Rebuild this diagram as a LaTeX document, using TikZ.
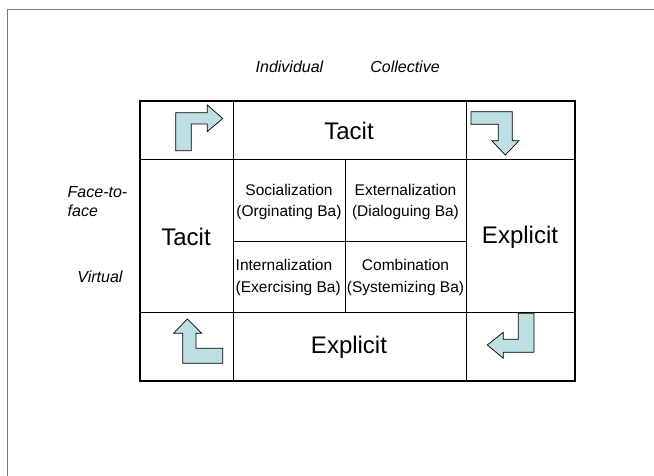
\documentclass[tikz,border=0pt]{standalone}
\usepackage{fontspec}
\setmainfont{Liberation Sans}
\definecolor{arrowfill}{RGB}{190,224,228}
\definecolor{framegray}{RGB}{120,120,120}
\begin{document}
\begin{tikzpicture}[x=1pt,y=-1pt,
  bigtext/.style={font=\fontsize{24}{28}\selectfont, inner sep=0pt},
  celltext/.style={font=\fontsize{15.5}{21.5}\selectfont, inner sep=0pt, align=center},
  axislabel/.style={font=\fontsize{16}{19}\selectfont\itshape, inner sep=0pt},
  gridline/.style={line width=1pt, black},
  bentarrow/.style={fill=arrowfill, draw=black, line width=0.7pt, line join=miter}]
\useasboundingbox (0,0) rectangle (654,476);
% page frame
\draw[framegray, line width=1pt] (7.5,10) rectangle (670,490);

% corner coordinates of the table
\coordinate (TL) at (140,101);
\coordinate (BR) at (575,381);

% grid
\draw[gridline] (140,160) -- (575,160);
\draw[gridline] (140,312) -- (575,312);
\draw[gridline] (233,101) -- (233,381);
\draw[gridline] (466,101) -- (466,381);
\draw[gridline] (345,160) -- (345,312);
\draw[gridline] (233,242) -- (466,242);
\draw[line width=2pt, black] (TL) rectangle (BR);

% axis labels
\node[axislabel] (indiv) at (289.5,67) {Individual};
\node[axislabel] (coll) at (405,67) {Collective};
\node[axislabel, anchor=west, align=left, font=\fontsize{16}{19}\selectfont\itshape] (f2f) at (67.5,202) {Face-to-\\face};
\node[axislabel] (virt) at (100,277) {Virtual};

% big labels
\node[bigtext] (tacittop) at (349,131) {Tacit};
\node[bigtext] (tacitleft) at (186,237) {Tacit};
\node[bigtext] (explright) at (520,237) {Explicit};
\node[bigtext] (explbottom) at (349,347) {Explicit};

% quadrant texts
\node[celltext] (soc) at (289,202) {Socialization\\(Orginating Ba)};
\node[celltext] (ext) at (405.5,202) {Externalization\\(Dialoguing Ba)};
\node[celltext, align=left, anchor=west] (int) at (235.5,277.5) {Internalization\\(Exercising Ba)};
\node[celltext] (comb) at (405.5,277.5) {Combination\\(Systemizing Ba)};

% bent arrows
\draw[bentarrow] (175.7,150.7) -- (175.7,112.7) -- (207.3,112.7) -- (207.3,105) -- (222.7,118.5)
  -- (207.3,131.5) -- (207.3,124) -- (191.3,124) -- (191.3,150.7) -- cycle;
\draw[bentarrow] (471,111.7) -- (512.3,111.7) -- (512.3,140.7) -- (519,140.7) -- (505.3,155)
  -- (491.7,140.7) -- (498.3,140.7) -- (498.3,124.3) -- (471,124.3) -- cycle;
\draw[bentarrow] (187.3,319) -- (201.7,333.3) -- (196,333.3) -- (196,348.3) -- (222.7,348.3)
  -- (222.7,363.3) -- (182.7,363.3) -- (182.7,333.3) -- (173.5,333.3) -- cycle;
\draw[bentarrow] (518.3,313.3) -- (534,313.3) -- (534,352.3) -- (503.3,352.3) -- (503.3,358.3)
  -- (487.3,345) -- (503.3,332.3) -- (503.3,339.3) -- (518.3,339.3) -- cycle;
\end{tikzpicture}
\end{document}
